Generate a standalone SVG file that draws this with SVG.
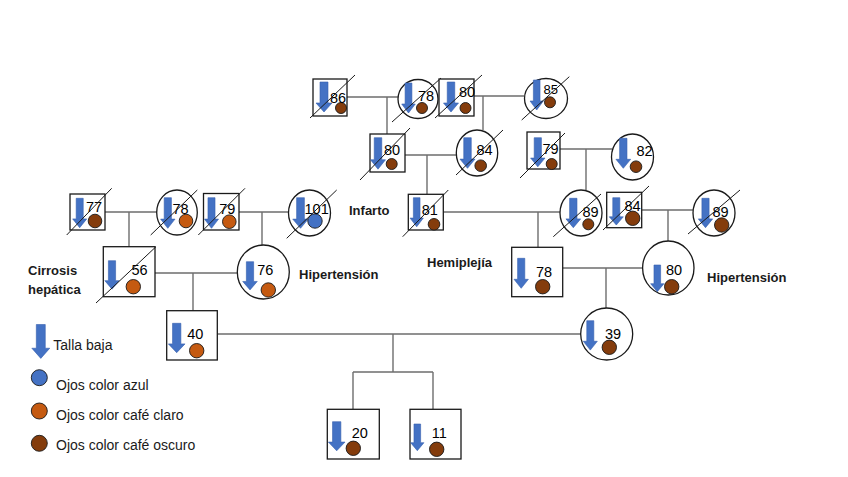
<svg xmlns="http://www.w3.org/2000/svg" xmlns:xlink="http://www.w3.org/1999/xlink" width="848" height="477" viewBox="0 0 848 477">
<style>
.sq{fill:#fff;stroke:#1a1a1a;stroke-width:1.3}
.ci{fill:#fff;stroke:#1a1a1a;stroke-width:1.3}
.dg{stroke:#1a1a1a;stroke-width:1;fill:none}
.cn{stroke:#6e6e6e;stroke-width:1.4;fill:none}
.num{font-family:"Liberation Sans",Arial,sans-serif;font-size:14.5px;fill:#000}
.lbl{font-family:"Liberation Sans",Arial,sans-serif;font-size:13px;font-weight:bold;fill:#1a1a1a}
.leg{font-family:"Liberation Sans",Arial,sans-serif;font-size:14px;fill:#1a1a1a}
.eb{fill:#4472C4;stroke:#1a1a1a;stroke-width:0.9}
.eo{fill:#C55A11;stroke:#1a1a1a;stroke-width:0.9}
.ed{fill:#843C0C;stroke:#1a1a1a;stroke-width:0.9}
</style>
<defs>
<path id="arw" d="M-4,0 H4 V21 H8 L0,30 L-8,21 H-4 Z" fill="#4472C4" stroke="#3560AE" stroke-width="0.6" vector-effect="non-scaling-stroke"/>
</defs>
<rect width="848" height="477" fill="#fff"/>
<g id="connectors">
<path class="cn" d="M347,97 H398 M387,97 V134"/>
<path class="cn" d="M474,96 H524 M483,96 V130"/>
<path class="cn" d="M405,155 H456 M427,155 V194"/>
<path class="cn" d="M560,149 H612 M586,149 V190"/>
<path class="cn" d="M105,212 H157 M129,212 V247"/>
<path class="cn" d="M239,212 H288 M262,212 V245"/>
<path class="cn" d="M443,212 H560 M538,212 V247"/>
<path class="cn" d="M642,210 H693 M668,210 V241"/>
<path class="cn" d="M155,273 H237 M193,273 V311"/>
<path class="cn" d="M563,268 H643 M606,268 V308"/>
<path class="cn" d="M217,334 H581 M393,334 V372 M353,372 H433 M353,372 V409 M433,372 V409"/>
</g>
<g id="n86">
<rect class="sq" x="313" y="79" width="34" height="37"/>
<use href="#arw" transform="translate(324,82) scale(1,1)"/>
<circle class="ed" cx="341" cy="108" r="5.5"/>
<text class="num" x="330" y="103">86</text>
<line class="dg" x1="310" y1="118" x2="355" y2="75"/>
</g>
<g id="n78a">
<ellipse class="ci" cx="418" cy="99" rx="20" ry="19.5"/>
<use href="#arw" transform="translate(408.5,83) scale(0.85,1)"/>
<circle class="ed" cx="422" cy="108" r="5.5"/>
<text class="num" x="418" y="101">78</text>
<line class="dg" x1="392" y1="122" x2="441" y2="78"/>
</g>
<g id="n80a">
<rect class="sq" x="439" y="79" width="35" height="37"/>
<use href="#arw" transform="translate(451,82) scale(0.94,1)"/>
<circle class="ed" cx="465.5" cy="108" r="5.5"/>
<text class="num" x="459" y="97">80</text>
<line class="dg" x1="435" y1="118" x2="482" y2="75"/>
</g>
<g id="n85">
<ellipse class="ci" cx="546" cy="98.5" rx="21.5" ry="20"/>
<use href="#arw" transform="translate(536.7,80) scale(0.83,1)"/>
<circle class="ed" cx="550" cy="102.3" r="5.5"/>
<text class="num" x="543.5" y="93.5" style="font-size:13px">85</text>
<line class="dg" x1="521.7" y1="120" x2="569.3" y2="76.7"/>
</g>
<g id="n80b">
<rect class="sq" x="370" y="134" width="35" height="38"/>
<use href="#arw" transform="translate(378,137.7) scale(0.94,1.05)"/>
<circle class="ed" cx="391.7" cy="164" r="5.5"/>
<text class="num" x="384" y="154.5">80</text>
<line class="dg" x1="360" y1="180" x2="410" y2="128"/>
</g>
<g id="n84a">
<ellipse class="ci" cx="477" cy="153" rx="20.7" ry="23"/>
<use href="#arw" transform="translate(467.5,137.7) scale(0.94,1.02)"/>
<circle class="ed" cx="480.7" cy="165.7" r="5.8"/>
<text class="num" x="476.5" y="154.5">84</text>
<line class="dg" x1="456" y1="175" x2="503" y2="130"/>
</g>
<g id="n79a">
<rect class="sq" x="527" y="132" width="33" height="37"/>
<use href="#arw" transform="translate(537.8,137.7) scale(0.9,0.97)"/>
<circle class="ed" cx="551.7" cy="164" r="5.5"/>
<text class="num" x="542.5" y="153.5">79</text>
<line class="dg" x1="520" y1="178" x2="565" y2="133"/>
</g>
<g id="n82">
<ellipse class="ci" cx="632.5" cy="157" rx="21" ry="23"/>
<use href="#arw" transform="translate(623.3,138.3) scale(0.92,1)"/>
<circle class="ed" cx="636" cy="166.7" r="5.8"/>
<text class="num" x="636.5" y="156">82</text>
</g>
<g id="n77">
<rect class="sq" x="70" y="194" width="35" height="36"/>
<use href="#arw" transform="translate(79.7,198.3) scale(0.88,0.98)"/>
<circle class="ed" cx="95" cy="221" r="6.8"/>
<text class="num" x="86" y="212">77</text>
<line class="dg" x1="66.7" y1="235" x2="111.7" y2="188.3"/>
</g>
<g id="n78b">
<ellipse class="ci" cx="177" cy="212.5" rx="20.3" ry="22.5"/>
<use href="#arw" transform="translate(167.8,197.7) scale(0.9,1.02)"/>
<circle class="eo" cx="186" cy="221" r="6.8"/>
<text class="num" x="172.5" y="213.5">78</text>
<line class="dg" x1="150.7" y1="235" x2="197.3" y2="190"/>
</g>
<g id="n79b">
<rect class="sq" x="203.5" y="193.5" width="35.5" height="36.5"/>
<use href="#arw" transform="translate(211.5,197.7) scale(0.88,1.02)"/>
<circle class="eo" cx="229.3" cy="221.7" r="6.8"/>
<text class="num" x="219.3" y="213.5">79</text>
<line class="dg" x1="198.3" y1="235" x2="245" y2="188.3"/>
</g>
<g id="n101">
<ellipse class="ci" cx="309.5" cy="213" rx="21" ry="23"/>
<use href="#arw" transform="translate(300.5,197.7) scale(0.97,1.02)"/>
<circle class="eb" cx="315" cy="221" r="7.2"/>
<text class="num" x="304.5" y="213.5">101</text>
<line class="dg" x1="286.7" y1="238.3" x2="336.7" y2="190"/>
</g>
<g id="n81">
<rect class="sq" x="408.3" y="194.3" width="35" height="35.7"/>
<use href="#arw" transform="translate(416.7,197.7) scale(0.83,0.97)"/>
<circle class="ed" cx="434" cy="224.3" r="5.8"/>
<text class="num" x="421.7" y="214.5">81</text>
<line class="dg" x1="402.7" y1="236.7" x2="448.3" y2="190"/>
</g>
<g id="n89a">
<ellipse class="ci" cx="581" cy="213" rx="21" ry="23"/>
<use href="#arw" transform="translate(573.3,198.3) scale(0.92,0.98)"/>
<circle class="ed" cx="588.3" cy="224.3" r="5.5"/>
<text class="num" x="582.5" y="217">89</text>
<line class="dg" x1="553.3" y1="236.7" x2="601" y2="194"/>
</g>
<g id="n84b">
<rect class="sq" x="606.7" y="192.3" width="35" height="35.4"/>
<use href="#arw" transform="translate(616.3,197.7) scale(0.88,0.91)"/>
<circle class="ed" cx="632.7" cy="218.3" r="7.2"/>
<text class="num" x="624.5" y="211">84</text>
<line class="dg" x1="603" y1="230" x2="649" y2="186"/>
</g>
<g id="n89b">
<ellipse class="ci" cx="714" cy="213" rx="21" ry="23"/>
<use href="#arw" transform="translate(705.5,198.3) scale(0.9,0.98)"/>
<circle class="ed" cx="721.7" cy="225" r="7.2"/>
<text class="num" x="712.5" y="217">89</text>
<line class="dg" x1="688" y1="234" x2="740" y2="190"/>
</g>
<g id="n56">
<rect class="sq" x="103.3" y="246.7" width="51.7" height="50"/>
<use href="#arw" transform="translate(112,260.7) scale(0.9,0.95)"/>
<circle class="eo" cx="133.3" cy="286.7" r="7.2"/>
<text class="num" x="131.5" y="274.5">56</text>
<line class="dg" x1="96" y1="303" x2="156" y2="246.7"/>
</g>
<g id="n76">
<ellipse class="ci" cx="263.3" cy="272" rx="26" ry="27"/>
<use href="#arw" transform="translate(250,261.7) scale(0.91,0.94)"/>
<circle class="eo" cx="268.3" cy="290" r="7.2"/>
<text class="num" x="257.3" y="275">76</text>
</g>
<g id="n78c">
<rect class="sq" x="511.7" y="247.3" width="51" height="49.4"/>
<use href="#arw" transform="translate(521.2,258.3) scale(0.9,1)"/>
<circle class="ed" cx="542.7" cy="286.7" r="7.2"/>
<text class="num" x="536" y="276.7">78</text>
</g>
<g id="n80c">
<ellipse class="ci" cx="668.3" cy="268" rx="25.7" ry="27"/>
<use href="#arw" transform="translate(657.3,265) scale(0.83,0.89)"/>
<circle class="ed" cx="671.7" cy="286.7" r="7.2"/>
<text class="num" x="666" y="274.5">80</text>
</g>
<g id="n40">
<rect class="sq" x="166.7" y="310.7" width="50.6" height="49.3"/>
<use href="#arw" transform="translate(176.7,323.3) scale(1.04,0.98)"/>
<circle class="eo" cx="196.7" cy="350.7" r="7.2"/>
<text class="num" x="187.3" y="339.3">40</text>
</g>
<g id="n39">
<ellipse class="ci" cx="606.7" cy="334" rx="26" ry="26"/>
<use href="#arw" transform="translate(590.3,320.7) scale(0.88,0.98)"/>
<circle class="ed" cx="609.3" cy="347.3" r="7.2"/>
<text class="num" x="605" y="339.3">39</text>
</g>
<g id="n20">
<rect class="sq" x="327.3" y="409.3" width="52" height="49.7"/>
<use href="#arw" transform="translate(336.7,421.7) scale(1.04,0.97)"/>
<circle class="ed" cx="353.3" cy="448.3" r="7.2"/>
<text class="num" x="351.7" y="438.3">20</text>
</g>
<g id="n11">
<rect class="sq" x="410" y="409.3" width="51" height="49.7"/>
<use href="#arw" transform="translate(417.3,424) scale(0.83,0.89)"/>
<circle class="ed" cx="436.7" cy="449.3" r="7.2"/>
<text class="num" x="431.7" y="438.3">11</text>
</g>
<g id="labels">
<text class="lbl" x="349" y="214.5">Infarto</text>
<text class="lbl" x="28" y="275">Cirrosis</text>
<text class="lbl" x="28" y="293.5">hepática</text>
<text class="lbl" x="299" y="278.5">Hipertensión</text>
<text class="lbl" x="427" y="267">Hemiplejía</text>
<text class="lbl" x="707" y="282">Hipertensión</text>
</g>
<g id="legend">
<use href="#arw" transform="translate(40.8,324.5) scale(1.12,1.13)"/>
<text class="leg" x="53.3" y="350">Talla baja</text>
<circle class="eb" cx="39.3" cy="377.7" r="8"/>
<text class="leg" x="56" y="390">Ojos color azul</text>
<circle class="eo" cx="39.3" cy="411" r="8"/>
<text class="leg" x="56" y="420">Ojos color café claro</text>
<circle class="ed" cx="39.3" cy="443.3" r="8"/>
<text class="leg" x="56" y="450">Ojos color café oscuro</text>
</g>
</svg>
